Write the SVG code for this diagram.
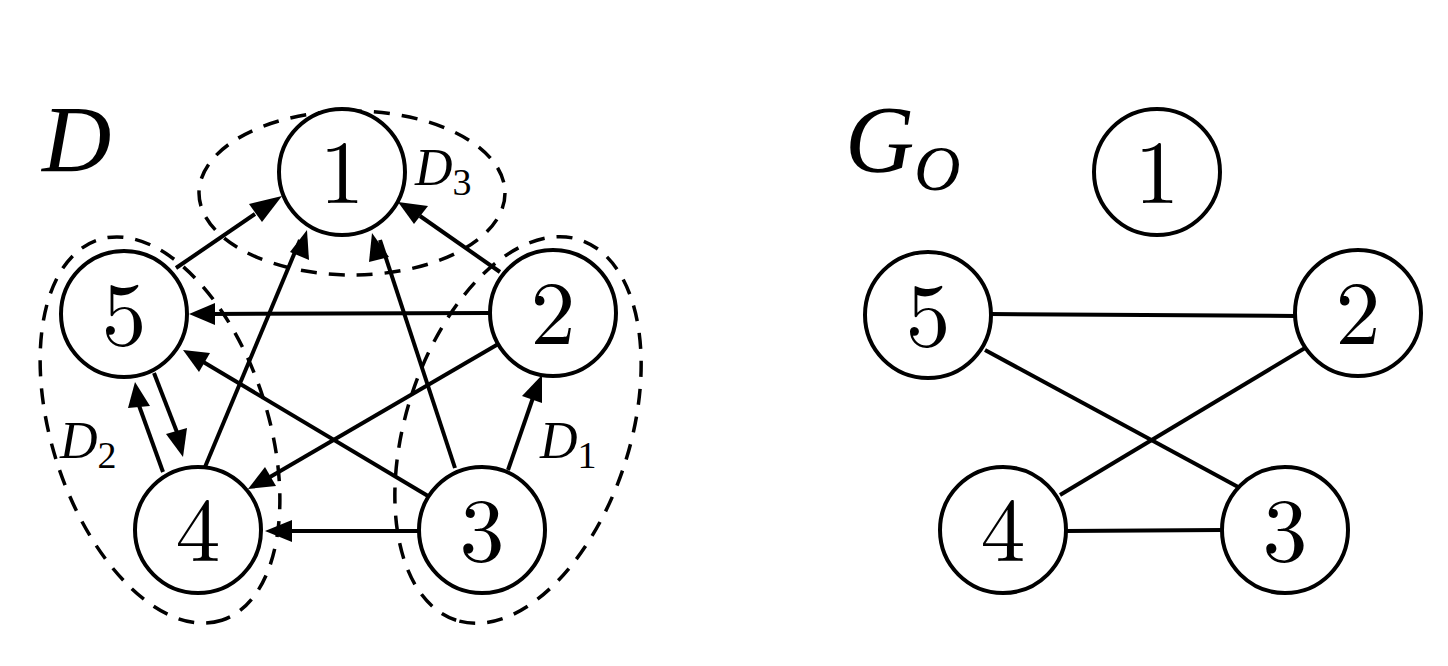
<svg xmlns="http://www.w3.org/2000/svg" width="1448" height="666" viewBox="0 0 1448 666">
<defs>
<style>
.n{fill:#fff;stroke:#000;stroke-width:4}
.t{font-family:"Latin Modern Roman","Liberation Serif",serif;font-size:90px;text-anchor:middle}
.l{font-family:"Liberation Serif",serif;font-style:italic}
.e{stroke:#000;stroke-width:4;fill:none}
.d{stroke:#000;stroke-width:3.5;fill:none;stroke-dasharray:16,12}
</style>
</defs>
<rect width="1448" height="666" fill="#fff"/>
<g id="blobs">
<ellipse class="d" cx="352" cy="193" rx="153" ry="82"/>
<ellipse class="d" cx="160" cy="430" rx="200" ry="108" transform="rotate(72 160 430)"/>
<ellipse class="d" cx="518" cy="430" rx="200" ry="112" transform="rotate(108 518 430)"/>
</g>
<g id="connectors">
<g class="e">
<line x1="176" y1="268" x2="255" y2="214"/>
<line x1="500" y1="272" x2="420" y2="216"/>
<line x1="455" y1="468" x2="380" y2="240"/>
<line x1="205" y1="467" x2="300" y2="240"/>
<line x1="490" y1="313" x2="210" y2="314"/>
<line x1="428" y1="496" x2="200" y2="360"/>
<line x1="163" y1="472" x2="137" y2="400"/>
<line x1="154" y1="373" x2="180" y2="440"/>
<line x1="500" y1="343" x2="270" y2="477"/>
<line x1="420" y1="531" x2="285" y2="531"/>
<line x1="508" y1="470" x2="535" y2="392"/>
<line x1="990" y1="314" x2="1296" y2="316"/>
<line x1="985" y1="350" x2="1240" y2="488"/>
<line x1="1060" y1="495" x2="1305" y2="348"/>
<line x1="1066" y1="531" x2="1222" y2="530"/>
</g>
<g fill="#000">
<path d="M282,196 L262,222 L249,204 Z"/>
<path d="M398,202 L428,206 L414,224 Z"/>
<path d="M372,233 L389,257 L369,262 Z"/>
<path d="M307,230 L309,260 L290,252 Z"/>
<path d="M189,314 L215,303 L215,325 Z"/>
<path d="M183,350 L210,353 L199,372 Z"/>
<path d="M135,382 L150,406 L128,408 Z"/>
<path d="M183,457 L166,434 L187,428 Z"/>
<path d="M248,489 L265,467 L276,486 Z"/>
<path d="M265,531 L292,520 L292,542 Z"/>
<path d="M542,375 L542,403 L522,396 Z"/>
</g>
</g>
<g id="n1"><circle class="n" cx="342" cy="172" r="63"/><text class="t" x="342" y="203">1</text></g>
<g id="n2"><circle class="n" cx="553" cy="313" r="63"/><text class="t" x="553" y="344">2</text></g>
<g id="n5"><circle class="n" cx="124" cy="314" r="63"/><text class="t" x="124" y="345">5</text></g>
<g id="n4"><circle class="n" cx="198" cy="530" r="63"/><text class="t" x="198" y="561">4</text></g>
<g id="n3"><circle class="n" cx="482" cy="530" r="63"/><text class="t" x="482" y="561">3</text></g>
<g id="m1"><circle class="n" cx="1157" cy="172" r="63"/><text class="t" x="1157" y="203">1</text></g>
<g id="m5"><circle class="n" cx="928" cy="315" r="63"/><text class="t" x="928" y="346">5</text></g>
<g id="m2"><circle class="n" cx="1358" cy="313" r="63"/><text class="t" x="1358" y="344">2</text></g>
<g id="m4"><circle class="n" cx="1003" cy="530" r="63"/><text class="t" x="1003" y="561">4</text></g>
<g id="m3"><circle class="n" cx="1285" cy="530" r="63"/><text class="t" x="1285" y="561">3</text></g>
<g id="labels">
<text class="l" x="42" y="172" font-size="96">D</text>
<text class="l" x="415" y="185" font-size="52">D<tspan font-size="38" font-style="normal" dy="10">3</tspan></text>
<text class="l" x="60" y="458" font-size="52">D<tspan font-size="38" font-style="normal" dy="10">2</tspan></text>
<text class="l" x="540" y="458" font-size="52">D<tspan font-size="38" font-style="normal" dy="10">1</tspan></text>
<text class="l" x="845" y="172" font-size="96">G<tspan font-size="64" dy="18">O</tspan></text>
</g>
</svg>
